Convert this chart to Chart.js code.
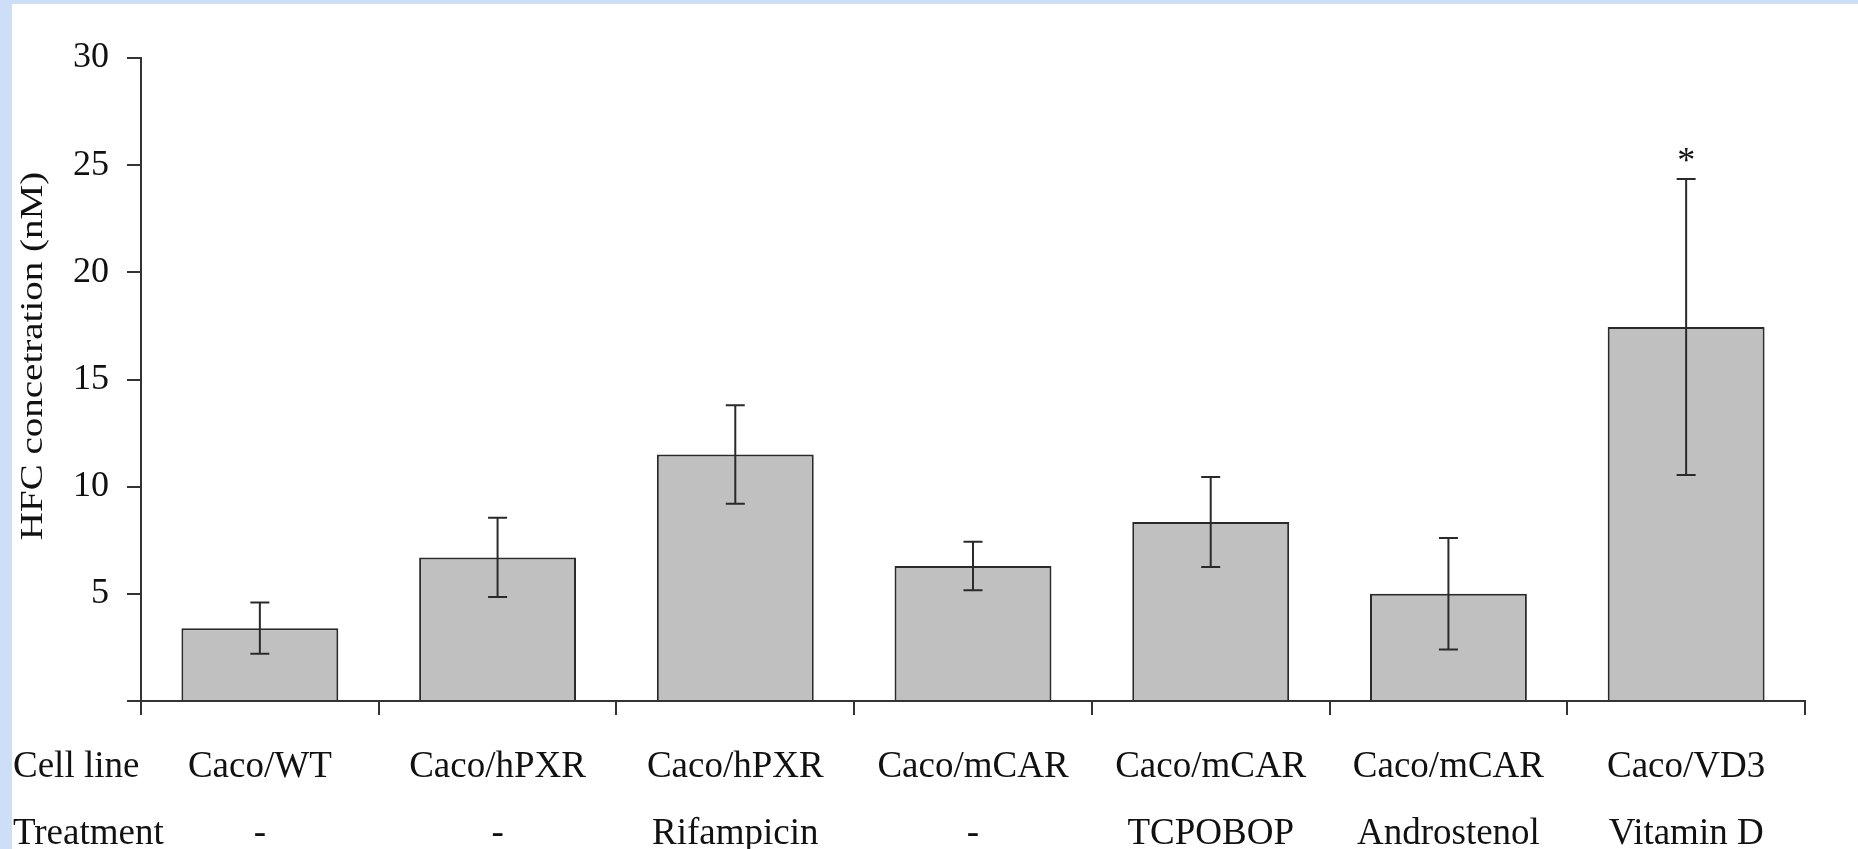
<!DOCTYPE html>
<html>
<head>
<meta charset="utf-8">
<script src="https://cdn.jsdelivr.net/npm/chart.js@4/dist/chart.umd.min.js"></script>
<style>
  html, body { margin: 0; padding: 0; }
  body { width: 1858px; height: 849px; background: #cddff6; position: relative; overflow: hidden; }
  #panel { position: absolute; left: 12px; top: 4px; width: 1846px; height: 845px; background: #fff; }
</style>
</head>
<body>
<div id="panel"><canvas id="hfcChart" width="1846" height="845"></canvas></div>
<script>
// data
const cellLines = ["Caco/WT", "Caco/hPXR", "Caco/hPXR", "Caco/mCAR", "Caco/mCAR", "Caco/mCAR", "Caco/VD3"];
const treatments = ["-", "-", "Rifampicin", "-", "TCPOBOP", "Androstenol", "Vitamin D"];
const hfcMeans = [3.4, 6.7, 11.5, 6.3, 8.35, 5.0, 17.45];
const hfcErrors = [1.2, 1.85, 2.3, 1.13, 2.1, 2.6, 6.9];
const significance = ["", "", "", "", "", "", "*"];
const rowHeaders = ["Cell line", "Treatment"];
const yTitle = "HFC concetration (nM)";

const serif = "'Liberation Serif', 'Times New Roman', serif";
const labelSize = 37;
const labelLineHeight = 1.8;
const labelPadding = 19;

// error bars + significance stars
const errorBarPlugin = {
  id: "errorBars",
  afterDatasetsDraw(chart) {
    const ctx = chart.ctx;
    const yScale = chart.scales.y;
    const meta = chart.getDatasetMeta(0);
    ctx.save();
    ctx.strokeStyle = "#2a2a2a";
    ctx.lineWidth = 2;
    meta.data.forEach((bar, i) => {
      const top = yScale.getPixelForValue(hfcMeans[i] + hfcErrors[i]);
      const bottom = yScale.getPixelForValue(hfcMeans[i] - hfcErrors[i]);
      const capHalf = 9.5;
      ctx.beginPath();
      ctx.moveTo(bar.x, top);
      ctx.lineTo(bar.x, bottom);
      ctx.moveTo(bar.x - capHalf, top);
      ctx.lineTo(bar.x + capHalf, top);
      ctx.moveTo(bar.x - capHalf, bottom);
      ctx.lineTo(bar.x + capHalf, bottom);
      ctx.stroke();
      if (significance[i]) {
        ctx.fillStyle = "#111";
        ctx.font = "36px " + serif;
        ctx.textAlign = "center";
        ctx.textBaseline = "alphabetic";
        ctx.fillText(significance[i], bar.x, top - 7);
      }
    });
    ctx.restore();
  },
};

// row headers + the (slightly condensed) y axis title
const textPlugin = {
  id: "extraText",
  afterDraw(chart) {
    const ctx = chart.ctx;
    const xScale = chart.scales.x;
    const lh = labelSize * labelLineHeight;
    const y0 = xScale.top + 14 + labelPadding;
    ctx.save();
    ctx.fillStyle = "#111";
    ctx.font = labelSize + "px " + serif;
    ctx.textAlign = "left";
    ctx.textBaseline = "middle";
    rowHeaders.forEach((txt, i) => {
      ctx.fillText(txt, 1, y0 + lh * (i + 0.5));
    });
    ctx.restore();

    ctx.save();
    ctx.fillStyle = "#111";
    ctx.font = "39px " + serif;
    ctx.translate(30, 352);
    ctx.rotate(-Math.PI / 2);
    ctx.scale(1, 0.82);
    ctx.textAlign = "center";
    ctx.textBaseline = "alphabetic";
    ctx.fillText(yTitle, 0, 0);
    ctx.restore();
  },
};

const ctx = document.getElementById("hfcChart").getContext("2d");
new Chart(ctx, {
  type: "bar",
  data: {
    labels: cellLines.map((c, i) => [c, treatments[i]]),
    datasets: [
      {
        data: hfcMeans,
        backgroundColor: "#c0c0c0",
        borderColor: "#2a2a2a",
        borderWidth: 2,
        categoryPercentage: 1,
        barPercentage: 0.66,
      },
    ],
  },
  options: {
    responsive: false,
    animation: false,
    layout: { padding: { top: 54, right: 53, left: 0, bottom: 0 } },
    plugins: {
      legend: { display: false },
      tooltip: { enabled: false },
    },
    scales: {
      x: {
        grid: { drawOnChartArea: false, drawTicks: true, tickLength: 14, color: "#333", lineWidth: 2, offset: true },
        border: { display: true, color: "#333", width: 2 },
        ticks: {
          color: "#111",
          font: { family: serif, size: labelSize, lineHeight: labelLineHeight },
          padding: labelPadding,
          maxRotation: 0,
          autoSkip: false,
        },
        afterFit(scale) { scale.height = 148; },
      },
      y: {
        min: 0,
        max: 30,
        grid: { drawOnChartArea: false, drawTicks: true, tickLength: 14, color: "#333", lineWidth: 2 },
        border: { display: true, color: "#333", width: 2 },
        ticks: {
          stepSize: 5,
          color: "#111",
          padding: 18,
          font: { family: serif, size: 36 },
          callback: (v) => (v === 0 ? "" : v),
        },
        afterFit(scale) { scale.width = 129; },
      },
    },
  },
  plugins: [errorBarPlugin, textPlugin],
});
</script>
</body>
</html>
